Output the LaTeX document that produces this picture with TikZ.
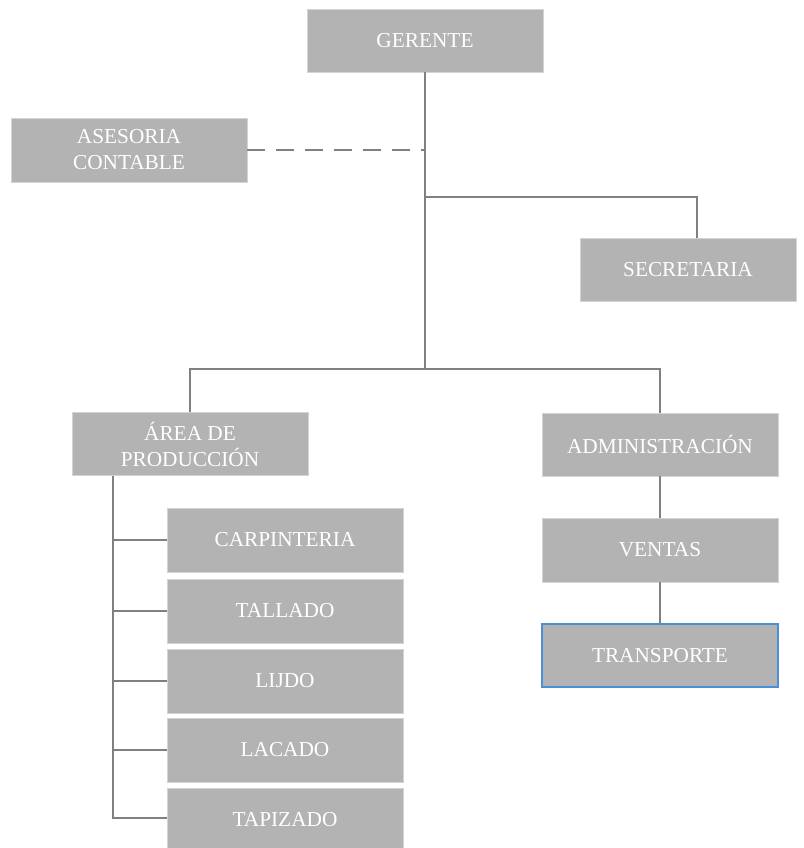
\documentclass[tikz,border=0pt]{standalone}
\usepackage{fontspec}
\setmainfont{Liberation Serif}
\definecolor{boxfill}{HTML}{B3B3B3}
\definecolor{boxline}{HTML}{D4D4D4}
\definecolor{linegray}{HTML}{808080}
\definecolor{blueedge}{HTML}{4A90D9}
\tikzset{
  orgbox/.style={fill=boxfill, draw=boxline, line width=0.8pt, text=white,
    font=\fontsize{21.3}{26}\selectfont, align=center,
    minimum width=236pt, minimum height=63pt, inner sep=0pt},
  link/.style={draw=linegray, line width=1.4pt},
  dlink/.style={link, dash pattern=on 18pt off 11pt},
}
\begin{document}
\begin{tikzpicture}[x=1pt,y=-1pt]
\clip (0,0) rectangle (803,848);
\useasboundingbox (0,0) rectangle (803,848);
\node[orgbox] (ger) at (425,40.5) {GERENTE};
\node[orgbox, minimum height=64pt] (ase) at (129,150) {ASESORIA\\CONTABLE};
\node[orgbox, minimum width=216pt] (sec) at (688,269.5) {SECRETARIA};
\node[orgbox] (area) at (190,444) {ÁREA DE\\PRODUCCIÓN};
\node[orgbox] (adm) at (660,444.5) {ADMINISTRACIÓN};
\node[orgbox, minimum height=64pt] (ven) at (660,550) {VENTAS};
\node[orgbox, draw=blueedge, line width=1.2pt] (tra) at (660,655.5) {TRANSPORTE};
\node[orgbox, minimum height=64pt] (car) at (285,540) {CARPINTERIA};
\node[orgbox, minimum height=64pt] (tal) at (285,611) {TALLADO};
\node[orgbox, minimum height=64pt] (lij) at (285,681) {LIJDO};
\node[orgbox, minimum height=64pt] (lac) at (285,750) {LACADO};
\node[orgbox, minimum height=64pt] (tap) at (285,820) {TAPIZADO};

\coordinate (tdash) at (425,150);
\coordinate (tsec) at (425,197);
\coordinate (tbr) at (425,369);
\coordinate (lv) at (113,818);

\draw[link] (ger.south) -- (tbr);
\draw[dlink] (ase.east) -- (tdash);
\draw[link] (tsec) -| (sec.north -| 697,0);
\draw[link] (area.north) |- (tbr) -| (adm.north);
\draw[link] (adm.south) -- (ven.north);
\draw[link] (ven.south) -- (tra.north);
\draw[link] (area.south -| lv) -- (lv) -- (lv -| tap.west);
\foreach \n in {car,tal,lij,lac}
  \draw[link] (\n.west -| lv) -- (\n.west);
\end{tikzpicture}
\end{document}
